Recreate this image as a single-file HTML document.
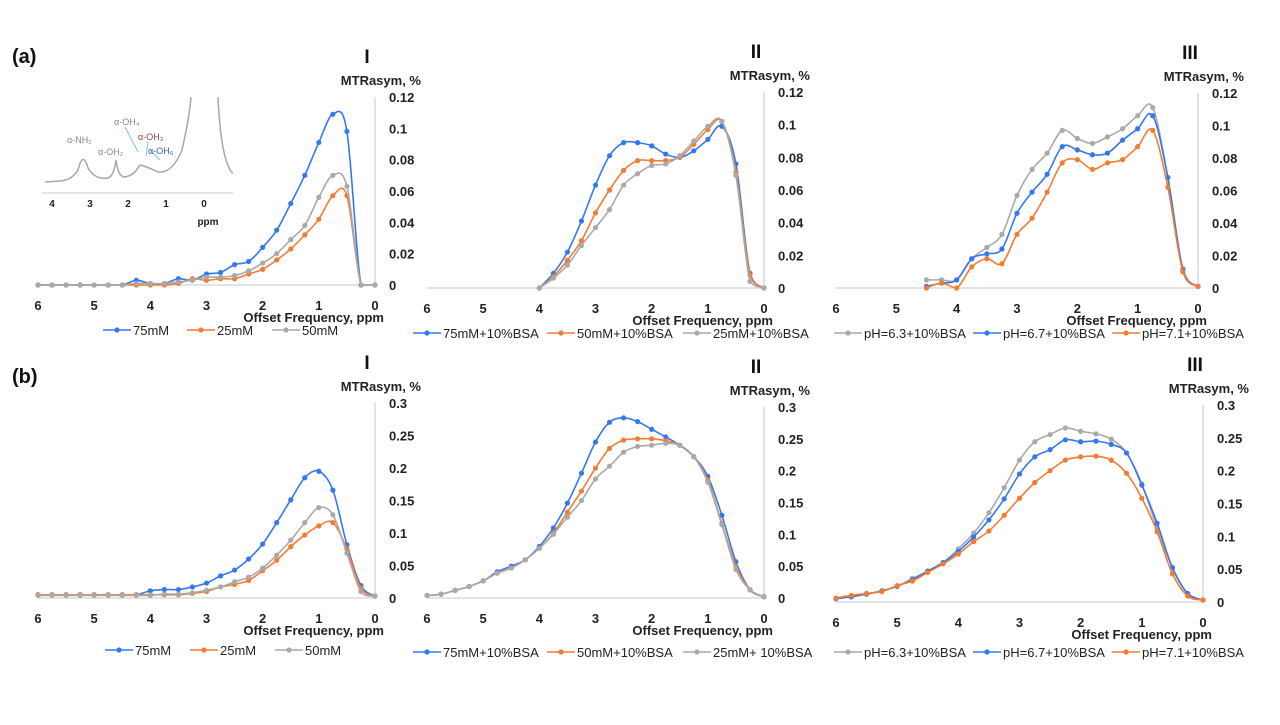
<!DOCTYPE html>
<html><head><meta charset="utf-8">
<style>
body{margin:0;background:#fff;}
svg text{font-family:"Liberation Sans",sans-serif;}
.tk{font-size:13px;font-weight:bold;fill:#222;}
.lg{font-size:13px;fill:#222;}
</style></head>
<body>
<svg id="fig" width="1280" height="720" viewBox="0 0 1280 720" xmlns="http://www.w3.org/2000/svg">
<rect width="1280" height="720" fill="#fff"/>
<text x="12" y="63" font-size="20" font-weight="bold" fill="#111">(a)</text>
<text x="12" y="383" font-size="20" font-weight="bold" fill="#111">(b)</text>
<g>
<line x1="42" y1="193" x2="233" y2="193" stroke="#ccc" stroke-width="1"/>
<path d="M45 182 L60 181 Q72 180 78 170 Q83 150 88 168 Q95 180 108 178 Q114 176 116 160 Q118 176 124 177 Q134 176 139 166 L141 165 Q150 168 158 172 Q172 174 182 150 Q189 120 191 97 M218 97 Q220 140 226 160 Q230 172 233 173" fill="none" stroke="#a8a8a8" stroke-width="1.5"/>
<line x1="125" y1="127" x2="138" y2="152" stroke="#7cc4ef" stroke-width="1"/>
<line x1="148" y1="142" x2="146" y2="156" stroke="#7cc4ef" stroke-width="1"/>
<line x1="150" y1="150" x2="160" y2="160" stroke="#7cc4ef" stroke-width="1"/>
<text x="67" y="143" font-size="9" fill="#888">α-NH₂</text>
<text x="98" y="155" font-size="9" fill="#888">α-OH₂</text>
<text x="114" y="125" font-size="9" fill="#888">α-OH₄</text>
<text x="138" y="140" font-size="9" fill="#a04040">α-OH₃</text>
<text x="148" y="154" font-size="9" fill="#4060a0">α-OH₆</text>
<text x="52" y="207" class="tk" text-anchor="middle" style="font-size:10px">4</text>
<text x="90" y="207" class="tk" text-anchor="middle" style="font-size:10px">3</text>
<text x="128" y="207" class="tk" text-anchor="middle" style="font-size:10px">2</text>
<text x="166" y="207" class="tk" text-anchor="middle" style="font-size:10px">1</text>
<text x="204" y="207" class="tk" text-anchor="middle" style="font-size:10px">0</text>
<text x="208" y="225" class="tk" text-anchor="middle" style="font-size:10px">ppm</text>
</g>
</svg>
<script>
const xA=[6,5.75,5.5,5.25,5,4.75,4.5,4.25,4,3.75,3.5,3.25,3,2.75,2.5,2.25,2,1.75,1.5,1.25,1,0.75,0.5,0.25,0];
const xII=[4,3.75,3.5,3.25,3,2.75,2.5,2.25,2,1.75,1.5,1.25,1,0.75,0.5,0.25,0];
const xIII=[4.5,4.25,4,3.75,3.5,3.25,3,2.75,2.5,2.25,2,1.75,1.5,1.25,1,0.75,0.5,0.25,0];
const aI_75=[0,0,0,0,0,0,0,0.003,0.001,0.001,0.004,0.003,0.007,0.008,0.013,0.015,0.024,0.035,0.052,0.07,0.091,0.109,0.098,0,0];
const aI_25=[0,0,0,0,0,0,0,0,0,0,0.001,0.004,0.003,0.004,0.004,0.007,0.01,0.016,0.023,0.032,0.042,0.057,0.057,0,0];
const aI_50=[0,0,0,0,0,0,0,0.001,0.001,0.001,0.002,0.003,0.005,0.005,0.006,0.009,0.014,0.02,0.029,0.038,0.056,0.07,0.063,0,0];
const aII_75=[0,0.009,0.022,0.041,0.063,0.081,0.089,0.089,0.087,0.082,0.080,0.084,0.091,0.099,0.076,0.009,0];
const aII_50=[0,0.007,0.017,0.029,0.046,0.06,0.072,0.078,0.078,0.078,0.08,0.088,0.097,0.102,0.071,0.008,0];
const aII_25=[0,0.006,0.014,0.026,0.037,0.048,0.063,0.07,0.075,0.076,0.081,0.09,0.099,0.102,0.069,0.004,0];
const aIII_63=[0.005,0.005,0.005,0.018,0.025,0.033,0.057,0.073,0.083,0.097,0.092,0.089,0.093,0.098,0.106,0.111,0.068,0.012,0.001];
const aIII_67=[0.001,0.003,0.005,0.018,0.021,0.024,0.046,0.059,0.07,0.087,0.085,0.082,0.083,0.091,0.098,0.106,0.068,0.011,0.001];
const aIII_71=[0,0.003,0,0.013,0.018,0.015,0.033,0.043,0.059,0.077,0.079,0.073,0.077,0.079,0.087,0.097,0.062,0.01,0.001];
const bI_75=[0.005,0.005,0.005,0.005,0.005,0.005,0.005,0.005,0.011,0.013,0.013,0.017,0.023,0.034,0.043,0.06,0.083,0.116,0.151,0.185,0.195,0.166,0.082,0.019,0.003];
const bI_25=[0.005,0.005,0.005,0.005,0.005,0.005,0.005,0.005,0.005,0.005,0.005,0.007,0.01,0.017,0.021,0.027,0.042,0.058,0.079,0.097,0.111,0.116,0.075,0.015,0.003];
const bI_50=[0.004,0.004,0.004,0.004,0.004,0.004,0.004,0.004,0.004,0.006,0.006,0.008,0.012,0.017,0.025,0.032,0.046,0.066,0.089,0.116,0.139,0.128,0.069,0.01,0.003];
const bII_75=[0.004,0.006,0.012,0.018,0.027,0.041,0.05,0.06,0.081,0.11,0.149,0.196,0.245,0.276,0.283,0.277,0.265,0.253,0.24,0.222,0.191,0.13,0.057,0.013,0.002];
const bII_50=[0.004,0.006,0.012,0.018,0.027,0.039,0.047,0.06,0.078,0.102,0.135,0.168,0.204,0.235,0.248,0.25,0.25,0.247,0.24,0.222,0.185,0.117,0.05,0.013,0.002];
const bII_25=[0.004,0.006,0.012,0.018,0.027,0.039,0.047,0.06,0.078,0.1,0.127,0.153,0.187,0.207,0.229,0.238,0.24,0.243,0.24,0.222,0.182,0.115,0.045,0.013,0.002];
const bIII_63=[0.005,0.008,0.012,0.017,0.024,0.036,0.047,0.06,0.081,0.105,0.136,0.174,0.216,0.244,0.255,0.265,0.26,0.256,0.248,0.227,0.18,0.112,0.053,0.012,0.003];
const bIII_67=[0.005,0.008,0.012,0.017,0.024,0.034,0.047,0.06,0.077,0.099,0.125,0.157,0.195,0.221,0.232,0.247,0.244,0.245,0.24,0.227,0.178,0.12,0.052,0.013,0.003];
const bIII_71=[0.006,0.01,0.013,0.016,0.025,0.032,0.045,0.058,0.073,0.092,0.108,0.132,0.158,0.182,0.2,0.216,0.221,0.222,0.216,0.196,0.158,0.107,0.043,0.009,0.003];
const xTicks=[6,5,4,3,2,1,0];
const yTicksA=[0,0.02,0.04,0.06,0.08,0.1,0.12];
const yTicksB=[0,0.05,0.1,0.15,0.2,0.25,0.3];
const labsA=["0","0.02","0.04","0.06","0.08","0.1","0.12"];
const labsB=["0","0.05","0.1","0.15","0.2","0.25","0.3"];

const BLUE="#3478f0",ORANGE="#f47c32",GRAY="#a9a9a9";
const svg=document.getElementById('fig');
const NS="http://www.w3.org/2000/svg";
function mk(tag,attrs,parent){const e=document.createElementNS(NS,tag);for(const k in attrs)e.setAttribute(k,attrs[k]);(parent||svg).appendChild(e);return e;}
function smooth(p,ymax){const c=v=>Math.min(v,ymax);let d="M"+p[0][0]+" "+p[0][1];for(let i=0;i<p.length-1;i++){const p0=p[Math.max(0,i-1)],p1=p[i],p2=p[i+1],p3=p[Math.min(p.length-1,i+2)];const t=6;d+=" C"+(p1[0]+(p2[0]-p0[0])/t)+" "+c(p1[1]+(p2[1]-p0[1])/t)+" "+(p2[0]-(p3[0]-p1[0])/t)+" "+c(p2[1]-(p3[1]-p1[1])/t)+" "+p2[0]+" "+p2[1];}return d;}

const panels=[
 {id:"a-1",title:"I",x6:38,x0:375,y0:285,yT:97,max:0.12,yt:yTicksA,yl:labsA,ly:335,xs:xA,ser:[["75mM",aI_75,BLUE],["25mM",aI_25,ORANGE],["50mM",aI_50,GRAY]],lx:[103,187,272]},
 {id:"a-2",title:"II",x6:427,x0:764,y0:288,yT:92,max:0.12,yt:yTicksA,yl:labsA,ly:338,xs:xII,ser:[["75mM+10%BSA",aII_75,BLUE],["50mM+10%BSA",aII_50,ORANGE],["25mM+10%BSA",aII_25,GRAY]],lx:[413,547,683]},
 {id:"a-3",title:"III",x6:836,x0:1198,y0:288,yT:93,max:0.12,yt:yTicksA,yl:labsA,ly:338,xs:xIII,ser:[["pH=6.3+10%BSA",aIII_63,GRAY],["pH=6.7+10%BSA",aIII_67,BLUE],["pH=7.1+10%BSA",aIII_71,ORANGE]],lx:[834,973,1112]},
 {id:"b-1",title:"I",x6:38,x0:375,y0:598,yT:403,max:0.3,yt:yTicksB,yl:labsB,ly:655,xs:xA,ser:[["75mM",bI_75,BLUE],["25mM",bI_25,ORANGE],["50mM",bI_50,GRAY]],lx:[105,190,275]},
 {id:"b-2",title:"II",x6:427,x0:764,y0:598,yT:407,max:0.3,yt:yTicksB,yl:labsB,ly:657,xs:xA,ser:[["75mM+10%BSA",bII_75,BLUE],["50mM+10%BSA",bII_50,ORANGE],["25mM+ 10%BSA",bII_25,GRAY]],lx:[413,547,683]},
 {id:"b-3",title:"III",x6:836,x0:1203,y0:602,yT:405,max:0.3,yt:yTicksB,yl:labsB,ly:657,xs:xA,ser:[["pH=6.3+10%BSA",bIII_63,GRAY],["pH=6.7+10%BSA",bIII_67,BLUE],["pH=7.1+10%BSA",bIII_71,ORANGE]],lx:[834,973,1112]}
];
panels.forEach(P=>{
 const g=mk('g',{});
 
 
 const X=v=>P.x0+(P.x6-P.x0)*v/6;
 const Y=v=>P.y0-(P.y0-P.yT)*v/P.max;
 const ax=mk('line',{x1:P.x6,y1:P.y0,x2:P.x0,y2:P.y0,stroke:"#d4d4d4","stroke-width":1.3},g);
 
 
 const ay=mk('line',{x1:P.x0,y1:P.yT,x2:P.x0,y2:P.y0,stroke:"#d4d4d4","stroke-width":1.3},g);
 
 
 P.yt.forEach((v,i)=>{const t=mk('text',{x:P.x0+14,y:Y(v)+5,class:"tk"},g);t.textContent=P.yl[i];
  
  });
 xTicks.forEach(v=>{const t=mk('text',{x:X(v),y:P.y0+25,class:"tk","text-anchor":"middle"},g);t.textContent=String(v);
  
  });
 const xt=mk('text',{x:P.x0+9,y:P.y0+37,class:"tk","text-anchor":"end"},g);xt.textContent="Offset Frequency, ppm";
 
 
 const yt=mk('text',{x:P.x0+46,y:P.yT-12,class:"tk","text-anchor":"end"},g);yt.textContent="MTRasym, %";
 
 
 const tt=mk('text',{x:P.x0-8,y:P.yT-34,"font-size":"19","font-weight":"bold",fill:"#111","text-anchor":"middle"},g);tt.textContent=P.title;
 
 
 P.ser.forEach((s,si)=>{
  const pts=P.xs.map((x,i)=>[X(x),Y(s[1][i])]);
  const pth=mk('path',{d:smooth(pts,P.y0),fill:"none",stroke:s[2],"stroke-width":1.6},g);
  
  
  pts.forEach(p=>{const c=mk('circle',{cx:p[0],cy:p[1],r:2.6,fill:s[2]},g);
   
   });
  const lx=P.lx[si];
  const lg=mk('g',{},g);
  
  
  mk('line',{x1:lx,y1:P.ly-5,x2:lx+28,y2:P.ly-5,stroke:s[2],"stroke-width":1.6},lg);
  mk('circle',{cx:lx+14,cy:P.ly-5,r:2.6,fill:s[2]},lg);
  const t=mk('text',{x:lx+30,y:P.ly,class:"lg"},lg);t.textContent=s[0];
 });
});
</script>
</body></html>
